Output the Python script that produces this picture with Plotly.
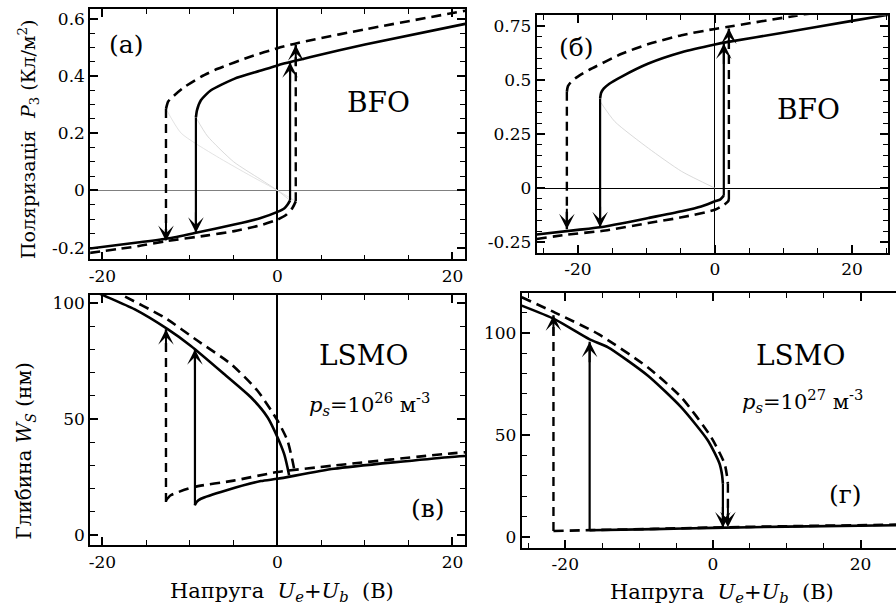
import plotly.graph_objects as go

W, H = 896, 610
FONT = "DejaVu Serif"

# ---------------- data ----------------
# (a) BFO, p_s = 1e26 m^-3 : polarization P3 (C/m^2) vs U (V)
a_sol_up_x = [-9.32, -9.2, -8.75, -7.6, -4.95, -2.0, 0.0, 1.9, 3.8, 10.0, 21.45]
a_sol_up_y = [0.255, 0.28, 0.315, 0.35, 0.39, 0.418, 0.437, 0.452, 0.466, 0.51, 0.582]
a_sol_lo_x = [-21.45, -16.0, -12.55, -9.32, -4.94, -2.0, 0.0, 0.8, 1.14, 1.44]
a_sol_lo_y = [-0.203, -0.182, -0.168, -0.148, -0.119, -0.097, -0.075, -0.062, -0.05, -0.035]
a_das_up_x = [-12.74, -12.5, -12.17, -10.65, -8.75, -6.84, -3.04, 0.0, 1.9, 3.8, 10.0, 21.45]
a_das_up_y = [0.285, 0.31, 0.322, 0.361, 0.397, 0.425, 0.468, 0.497, 0.512, 0.525, 0.563, 0.628]
a_das_lo_x = [-21.45, -16.0, -12.74, -8.0, -4.94, -2.0, 0.0, 1.0, 1.71, 2.09]
a_das_lo_y = [-0.218, -0.195, -0.177, -0.157, -0.142, -0.122, -0.102, -0.085, -0.061, -0.038]
a_uns_sol_x = [-9.32, -8.0, -5.0, -2.0, 0.0, 1.44]
a_uns_sol_y = [0.255, 0.19, 0.10, 0.04, 0.0, -0.035]
a_uns_das_x = [-12.74, -11.0, -7.0, -3.0, 0.0, 2.09]
a_uns_das_y = [0.285, 0.20, 0.12, 0.05, 0.0, -0.038]
a_jump_x = [-9.32, 1.44, -12.74, 2.09]
a_jump_from = [0.255, -0.035, 0.285, -0.038]
a_jump_to = [-0.148, 0.448, -0.177, 0.508]
a_jump_dash = ["solid", "solid", "dash", "dash"]

# (b) BFO, p_s = 1e27 m^-3
b_sol_up_x = [-16.75, -16.6, -16.2, -15.4, -13.6, -9.7, -4.85, 0.0, 1.94, 9.7, 20.0, 25.3]
b_sol_up_y = [0.414, 0.44, 0.46, 0.482, 0.515, 0.575, 0.627, 0.663, 0.675, 0.716, 0.772, 0.80]
b_sol_lo_x = [-26.0, -20.0, -16.75, -9.7, -4.85, -2.0, 0.0, 0.8, 1.3]
b_sol_lo_y = [-0.214, -0.193, -0.181, -0.138, -0.107, -0.085, -0.061, -0.052, -0.035]
b_das_up_x = [-21.6, -21.45, -21.0, -20.0, -18.4, -13.6, -9.7, -4.85, 0.0, 1.94, 11.65, 14.0]
b_das_up_y = [0.445, 0.47, 0.49, 0.515, 0.545, 0.62, 0.665, 0.706, 0.735, 0.745, 0.795, 0.806]
b_das_lo_x = [-26.0, -21.6, -16.0, -9.7, -4.85, 0.0, 1.2, 1.94, 2.04]
b_das_lo_y = [-0.235, -0.215, -0.196, -0.161, -0.135, -0.1, -0.08, -0.061, -0.05]
b_uns_x = [-16.75, -14.6, -9.7, -4.85, 0.0]
b_uns_y = [0.40, 0.307, 0.184, 0.077, 0.0]
b_jump_x = [-16.75, 1.3, -21.6, 2.04]
b_jump_from = [0.414, -0.035, 0.445, -0.05]
b_jump_to = [-0.181, 0.668, -0.19, 0.737]
b_jump_dash = ["solid", "solid", "dash", "dash"]

# (c) LSMO, p_s = 1e26 m^-3 : depth W_S (nm)
c_sol_up_x = [-21.45, -20.15, -16.35, -12.55, -9.89, -6.09, -3.04, -1.14, 0.0, 0.76, 1.14, 1.33]
c_sol_up_y = [106.0, 103.7, 97.3, 88.7, 81.5, 69.4, 59.4, 50.8, 42.2, 35.0, 29.3, 25.8]
c_sol_lo_x = [-9.45, -9.2, -8.75, -5.9, -1.9, 0.0, 6.46, 19.5, 21.45]
c_sol_lo_y = [12.9, 14.5, 15.7, 19.3, 23.3, 24.3, 28.6, 33.6, 34.1]
c_das_up_x = [-19.0, -17.9, -12.9, -9.12, -5.32, -2.28, 0.0, 1.14, 1.71, 1.9, 1.95]
c_das_up_y = [106.0, 103.7, 93.7, 83.7, 73.7, 62.2, 49.4, 40.8, 32.2, 28.6, 27.3]
c_das_lo_x = [-12.74, -12.2, -9.5, -5.0, 0.0, 6.46, 19.5, 21.45]
c_das_lo_y = [15.0, 17.2, 20.8, 23.5, 27.2, 30.0, 35.1, 35.7]
c_jump_x = [-9.43, -12.74]
c_jump_from = [12.9, 14.3]
c_jump_to = [80.1, 88.7]
c_jump_dash = ["solid", "dash"]

# (d) LSMO, p_s = 1e27 m^-3
d_sol_up_x = [-25.9, -21.4, -16.7, -14.2, -8.8, -4.28, -0.68, 0.9, 1.25, 1.35]
d_sol_up_y = [113.2, 106.5, 96.7, 92.8, 78.9, 63.4, 47.2, 35.8, 30.0, 26.0]
d_sol_lo_x = [-16.7, -8.0, 0.0, 10.0, 24.8]
d_sol_lo_y = [3.25, 3.8, 4.4, 5.0, 5.7]
d_das_up_x = [-25.9, -21.4, -15.5, -8.8, -4.28, -0.23, 1.58, 1.9, 2.03]
d_das_up_y = [117.3, 109.8, 99.2, 82.9, 68.3, 48.8, 35.8, 30.0, 26.0]
d_das_lo_x = [-21.6, -16.7, -8.0, 0.0, 10.0, 24.8]
d_das_lo_y = [2.9, 3.3, 3.9, 4.6, 5.2, 6.0]
d_jump_x = [-16.7, 1.35, -21.6, 2.03]
d_jump_from = [3.25, 26.0, 2.9, 26.0]
d_jump_to = [95.5, 4.6, 108.5, 4.7]
d_jump_dash = ["solid", "solid", "dash", "dash"]

# tick labels
x_ticks = [-20, 0, 20]
x_ticktext = ["-20", "0", "20"]
a_yticks = [-0.2, 0, 0.2, 0.4, 0.6]
a_yticktext = ["-0.2", "0", "0.2", "0.4", "0.6"]
b_yticks = [-0.25, 0, 0.25, 0.5, 0.75]
b_yticktext = ["-0.25", "0", "0.25", "0.5", "0.75"]
w_yticks = [0, 50, 100]
w_yticktext = ["0", "50", "100"]

# ---------------- figure ----------------
fig = go.Figure()
DASH = "10px,6px"


def curve(x, y, n, dash=False, width=2.6, color="black", smooth=0.6):
    fig.add_trace(go.Scatter(
        x=x, y=y, xaxis="x" + n, yaxis="y" + n, mode="lines",
        line=dict(color=color, width=width, dash=DASH if dash else "solid",
                  shape="spline", smoothing=smooth),
        showlegend=False, hoverinfo="skip"))


def jumps(xs, y0s, y1s, styles, n):
    for x, y0, y1, st in zip(xs, y0s, y1s, styles):
        fig.add_trace(go.Scatter(
            x=[x, x], y=[y0, y1], xaxis="x" + n, yaxis="y" + n, mode="lines",
            line=dict(color="black", width=2.2 if st == "solid" else 2.4,
                      dash="solid" if st == "solid" else "9px,6px"),
            showlegend=False, hoverinfo="skip"))
        fig.add_annotation(
            x=x, y=y1, xref="x" + n, yref="y" + n, ax=0,
            ay=22 if y1 > y0 else -22, showarrow=True, text="",
            arrowhead=3, arrowsize=1.3, arrowwidth=2.0, arrowcolor="black",
            standoff=0)


# (a)
curve(a_uns_sol_x, a_uns_sol_y, "", width=0.8, color="#d0d0d0")
curve(a_uns_das_x, a_uns_das_y, "", width=0.8, color="#dcdcdc")
curve(a_sol_up_x, a_sol_up_y, "")
curve(a_sol_lo_x, a_sol_lo_y, "")
curve(a_das_up_x, a_das_up_y, "", dash=True)
curve(a_das_lo_x, a_das_lo_y, "", dash=True)
jumps(a_jump_x, a_jump_from, a_jump_to, a_jump_dash, "")
# (b)
curve(b_uns_x, b_uns_y, "2", width=0.8, color="#d0d0d0")
curve(b_sol_up_x, b_sol_up_y, "2")
curve(b_sol_lo_x, b_sol_lo_y, "2")
curve(b_das_up_x, b_das_up_y, "2", dash=True)
curve(b_das_lo_x, b_das_lo_y, "2", dash=True)
jumps(b_jump_x, b_jump_from, b_jump_to, b_jump_dash, "2")
# (c)
curve(c_sol_up_x, c_sol_up_y, "3")
curve(c_sol_lo_x, c_sol_lo_y, "3")
curve(c_das_up_x, c_das_up_y, "3", dash=True)
curve(c_das_lo_x, c_das_lo_y, "3", dash=True)
jumps(c_jump_x, c_jump_from, c_jump_to, c_jump_dash, "3")
# (d)
curve(d_sol_up_x, d_sol_up_y, "4")
curve(d_sol_lo_x, d_sol_lo_y, "4")
curve(d_das_up_x, d_das_up_y, "4", dash=True)
curve(d_das_lo_x, d_das_lo_y, "4", dash=True)
jumps(d_jump_x, d_jump_from, d_jump_to, d_jump_dash, "4")

TICKFONT = dict(family=FONT, size=17, color="black")


def px_dom(a, b, total):
    return [a / total, b / total]


def ydom(top, bottom):
    return [1 - bottom / H, 1 - top / H]


def xax(dom, rng, anchor, zeroline=False, zw=1.5, mirror="ticks"):
    return dict(domain=dom, range=rng, anchor=anchor, showgrid=False,
                showline=True, linecolor="black", linewidth=1.8, mirror=mirror,
                ticks="inside", ticklen=8, tickwidth=1.5, tickcolor="black",
                tickmode="array", tickvals=x_ticks, ticktext=x_ticktext,
                minor=dict(dtick=5, tick0=0, ticks="inside", ticklen=5,
                           tickwidth=1.3, tickcolor="black"),
                zeroline=zeroline, zerolinecolor="black", zerolinewidth=zw,
                tickfont=TICKFONT, fixedrange=True)


def yax(dom, rng, anchor, vals, text, minor_dt, zeroline=False, zc="black",
        zw=1.0, mirror="ticks"):
    return dict(domain=dom, range=rng, anchor=anchor, showgrid=False,
                showline=True, linecolor="black", linewidth=1.8, mirror=mirror,
                ticks="inside", ticklen=8, tickwidth=1.5, tickcolor="black",
                tickmode="array", tickvals=vals, ticktext=text,
                minor=dict(dtick=minor_dt, tick0=0, ticks="inside", ticklen=5,
                           tickwidth=1.3, tickcolor="black"),
                zeroline=zeroline, zerolinecolor=zc, zerolinewidth=zw,
                tickfont=TICKFONT, fixedrange=True)


fig.update_layout(
    width=W, height=H, autosize=False,
    margin=dict(l=0, r=0, t=0, b=0),
    paper_bgcolor="white", plot_bgcolor="white",
    font=dict(family=FONT, color="black"),
    showlegend=False,
    xaxis=xax(px_dom(89.3, 464.7, W), [-21.4, 21.45], "y", zeroline=True, zw=1.5),
    yaxis=yax(ydom(7.3, 258.3), [-0.241, 0.633], "x", a_yticks, a_yticktext, 0.05,
              zeroline=True, zc="#808080", zw=1.2),
    xaxis2=xax(px_dom(536.3, 888.3, W), [-26.0, 25.3], "y2", zeroline=True, zw=1.0),
    yaxis2=yax(ydom(13.3, 251.7), [-0.299, 0.798], "x2", b_yticks, b_yticktext, 0.05,
               zeroline=True, zc="black", zw=1.0),
    xaxis3=xax(px_dom(89.3, 464.7, W), [-21.4, 21.45], "y3", zeroline=True, zw=1.5),
    yaxis3=yax(ydom(294, 545), [-4.3, 103.4], "x3", w_yticks, w_yticktext, 10),
    xaxis4=xax(px_dom(521.3, 896, W), [-25.9, 24.8], "y4"),
    yaxis4=yax(ydom(291.7, 547.3), [-5.2, 119.5], "x4", w_yticks, w_yticktext, 10,
               mirror=False),
)


def label(text, x, y, n, size):
    fig.add_annotation(text=text, x=x, y=y, xref="x" + n, yref="y" + n,
                       showarrow=False, xanchor="center", yanchor="middle",
                       font=dict(family=FONT, size=size, color="black"))


label("(a)", -17.3, 0.511, "", 25)
label("BFO", 11.5, 0.309, "", 28)
label("(б)", -20.2, 0.647, "2", 25)
label("BFO", 13.7, 0.364, "2", 28)
label("LSMO", 9.8, 77.3, "3", 28)
label("<i>p<sub>s</sub></i>=10<sup>26</sup> м<sup>-3</sup>", 10.5, 56.7, "3", 21)
label("(в)", 17.25, 11.6, "3", 25)
label("LSMO", 11.9, 88.6, "4", 28)
label("<i>p<sub>s</sub></i>=10<sup>27</sup> м<sup>-3</sup>", 12.1, 66.7, "4", 21)
label("(г)", 17.9, 20.8, "4", 25)


def ptitle(text, xpx, ypx, angle=0, size=20):
    fig.add_annotation(text=text, x=xpx / W, y=1 - ypx / H, xref="paper",
                       yref="paper", showarrow=False, textangle=angle,
                       xanchor="center", yanchor="middle",
                       font=dict(family=FONT, size=size, color="black"))


NB = "\u00a0"
ptitle("Поляризація" + NB + NB + "<i>P</i><sub>3</sub>" + NB + "(Кл/м<sup>2</sup>)", 27.5, 137, -90, 19)
ptitle("Глибина" + NB + "<i>W<sub>S</sub></i>" + NB + "(нм)", 24, 450, -90, 20)
xt = "Напруга" + NB + NB + "<i>U<sub>e</sub></i>+<i>U<sub>b</sub></i>" + NB + NB + "(В)"
ptitle(xt, 281, 592, 0, 21)
ptitle(xt, 722, 593, 0, 21)

fig.write_html("out.html")
